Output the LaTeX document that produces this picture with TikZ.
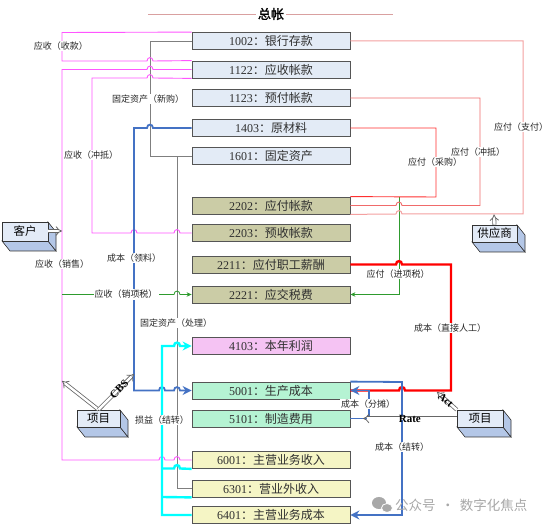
\documentclass[tikz,border=0pt]{standalone}
\usepackage{fontspec}
\setmainfont{Liberation Serif}
\newfontfamily\cjk{Noto Sans CJK SC}
\newfontfamily\cjkb[FakeBold=1.5]{Noto Sans CJK SC}
\usetikzlibrary{arrows.meta,calc}
\definecolor{boxline}{HTML}{555555}
\definecolor{boxtext}{HTML}{303030}
\definecolor{fblue}{HTML}{E3EBF6}
\definecolor{fkhaki}{HTML}{CBCCA6}
\definecolor{fpink}{HTML}{F5C3F3}
\definecolor{fgreen}{HTML}{B5F3D3}
\definecolor{fyellow}{HTML}{F5F5C5}
\definecolor{pinkc}{HTML}{FF55FF}
\definecolor{greyc}{HTML}{7F7F7F}
\definecolor{bluec}{HTML}{4472C4}
\definecolor{cyanc}{HTML}{00FFFF}
\definecolor{greenc}{HTML}{2E9B2E}
\definecolor{redA}{HTML}{FF3030}
\definecolor{redB}{HTML}{F06A6A}
\definecolor{redC}{HTML}{F4A0A0}
\definecolor{redT}{HTML}{FF0000}
\definecolor{titlec}{HTML}{D9A0A0}
\definecolor{sidec}{HTML}{B4C7E7}
\definecolor{frontc}{HTML}{E3EBF7}
\definecolor{wmc}{HTML}{A8A8A8}
\newcommand\lblfont{\cjk\fontsize{9}{10}\selectfont}
\newcommand\tdbox[6]{%
  \filldraw[boxside] (#2,#5) -- (#4,#5) -- ({#4+8},{#5+10}) -- ({#2+8},{#5+10}) -- cycle;
  \filldraw[boxside] (#4,#3) -- ({#4+8},{#3+10}) -- ({#4+8},{#5+10}) -- (#4,#5) -- cycle;
  \node[frontbox, minimum width={#4-#2}, minimum height={#5-#3}] (#1) at ({(#2+#4)/2},{(#3+#5)/2}) {#6};
}
\begin{document}
\begin{tikzpicture}[x=1pt,y=-1pt,
  acct/.style={draw=boxline, line width=0.8pt, minimum width=158pt, minimum height=17pt, inner sep=0pt, text=boxtext, font=\fontsize{12}{14}\selectfont},
  lbl/.style={fill=white, inner sep=1pt, text=black!85, font=\lblfont},
  boxside/.style={fill=sidec, draw=black!80, line width=0.6pt},
  frontbox/.style={fill=frontc, draw=black!80, line width=0.6pt, inner sep=0pt, font=\cjk\fontsize{11.5}{12}\selectfont},
  pinkl/.style={draw=pinkc, line width=0.9pt},
  greyl/.style={draw=greyc, line width=0.9pt},
  bluel/.style={draw=bluec, line width=1.8pt},
  cyanl/.style={draw=cyanc, line width=2.4pt},
  greenl/.style={draw=greenc, line width=0.8pt},
  redAl/.style={draw=redA, line width=0.9pt},
  redBl/.style={draw=redB, line width=0.9pt},
  redCl/.style={draw=redC, line width=1pt},
  redTl/.style={draw=redT, line width=2.4pt},
  dbl/.style={draw=black!60, double=white, double distance=2.4pt, line width=0.8pt, -{Implies[scale=1.3]}},
  bigtip/.style={-{Stealth[length=9pt,width=9pt]}},
  smalltip/.style={-{Stealth[length=5pt,width=4.5pt]}},
  hr/.style args={#1/#2}{insert path={-- ({#1-3},#2) .. controls ({#1-3},{#2-4.5}) and ({#1+3},{#2-4.5}) .. ({#1+3},#2)}},
  hl/.style args={#1/#2}{insert path={-- ({#1+3},#2) .. controls ({#1+3},{#2-4.5}) and ({#1-3},{#2-4.5}) .. ({#1-3},#2)}}
]
\useasboundingbox[fill=white] (0,0) rectangle (550,526);

% title
\coordinate (tl) at (148,15);
\coordinate (tr) at (393,15);
\draw[draw=titlec, line width=1pt] (tl) -- (tr);
\node[fill=white, inner xsep=2pt, font=\cjkb\fontsize{13}{14}\selectfont] (title) at (271,14) {总帐};

% accounts
\node[acct, fill=fblue] (a1002) at (271,41) {1002{\cjk ：银行存款}};
\node[acct, fill=fblue] (a1122) at (271,69.5) {1122{\cjk ：应收帐款}};
\node[acct, fill=fblue] (a1123) at (271,98) {1123{\cjk ：预付帐款}};
\node[acct, fill=fblue] (a1403) at (271,128) {1403{\cjk ：原材料}};
\node[acct, fill=fblue] (a1601) at (271,156) {1601{\cjk ：固定资产}};
\node[acct, fill=fkhaki] (a2202) at (271,205.5) {2202{\cjk ：应付帐款}};
\node[acct, fill=fkhaki] (a2203) at (271,233) {2203{\cjk ：预收帐款}};
\node[acct, fill=fkhaki] (a2211) at (271,264.5) {2211{\cjk ：应付职工薪酬}};
\node[acct, fill=fkhaki] (a2221) at (271,294.5) {2221{\cjk ：应交税费}};
\node[acct, fill=fpink] (a4103) at (271,346) {4103{\cjk ：本年利润}};
\node[acct, fill=fgreen] (a5001) at (271,390.5) {5001{\cjk ：生产成本}};
\node[acct, fill=fgreen] (a5101) at (271,418.5) {5101{\cjk ：制造费用}};
\node[acct, fill=fyellow] (a6001) at (271,460) {6001{\cjk ：主营业务收入}};
\node[acct, fill=fyellow] (a6301) at (271,488.5) {6301{\cjk ：营业外收入}};
\node[acct, fill=fyellow] (a6401) at (271,515) {6401{\cjk ：主营业务成本}};

% 3D boxes
\tdbox{kehu}{2}{222}{48}{241}{客户}
\tdbox{gys}{472}{225}{517}{242}{供应商}
\tdbox{xm1}{77}{410}{120}{427}{项目}
\tdbox{xm2}{457}{410}{503}{427}{项目}

% grey lines
\draw[greyl] (a1002.west) -- (150,41) -- (150,156) -- (a1601.west);
\draw[greyl] (a1601.west) -- (177,156) -- (177,488.5) -- (a6301.west);

% pink lines
\draw[pinkl] (a1002.north west) -- (62,32.5) -- (62,61) [hr=150/61] -- (a1122.north west);
\draw[pinkl] (a1122.west) [hl=150/69.5] -- (62,69.5) -- (62,460) [hr=162/460] [hr=177/460] -- (a6001.west);
\draw[pinkl] (a1122.south west) [hl=150/78] -- (92,78) -- (92,233) [hr=134/233] [hr=177/233] -- (a2203.west);

% blue 领料
\draw[bluel, bigtip] (a1403.west) [hl=150/128] -- (134,128) -- (134,390.5) [hr=162/390.5] [hr=177/390.5] -- (a5001.west);

% cyan 损益
\draw[cyanl, bigtip] (a6401.west) -- (162,515) -- (162,346) [hr=177/346] -- (a4103.west);
\draw[cyanl] (a6001.south west) [hl=177/468.5] -- (162,468.5);
\draw[cyanl] (a6301.south west) -- (162,497);

% green
\coordinate (gst) at (62,294.5);
\draw[greenl, smalltip] (gst) [hr=134/294.5] [hr=177/294.5] -- (a2221.west);
\coordinate (gjt) at (399,197);
\draw[greenl, smalltip] (gjt) -- (399,294.5) -- (a2221.east);

% red lines
\draw[redAl] (a1403.east) -- (436,128) -- (436,197) -- (a2202.north east);
\draw[redBl] (a1123.east) -- (480,98) -- (480,205.5) [hl=399/205.5] -- (a2202.east);
\draw[redCl] (a1002.east) -- (523,41) -- (523,214) [hl=399/214] -- (a2202.south east);
\draw[redTl] (a2211.east) [hr=399/264.5] -- (451,264.5) -- (451,390.5) [hl=402/390.5] -- (a5001.east);

% blue right
\draw[bluel, bigtip] (a5001.north east) -- (402,382) -- (402,515) -- (a6401.east);
\draw[bluel, bigtip] (a5101.east) -- (369,418.5) -- (369,390.5) -- (a5001.east);

% double arrows
\coordinate (khend) at (62,231);
\draw[dbl] (kehu.east |- khend) -- (khend);
\coordinate (gysend) at (494,214.5);
\draw[dbl] (gys.north) -- (gysend);
\coordinate (xmpink) at (62,381);
\draw[dbl] (xm1.north) -- (xmpink);
\coordinate (cbsend) at (134,374);
\draw[dbl] (xm1.north) -- (cbsend) node[pos=0.58, sloped, inner sep=0pt, font=\bfseries\fontsize{11}{11}\selectfont] (cbs) {CBS};
\coordinate (actend) at (437,392);
\draw[dbl] (xm2.north west) -- (actend) node[pos=0.55, sloped, inner sep=0pt, font=\bfseries\fontsize{10.5}{11}\selectfont] (act) {Act};
\coordinate (rateend) at (363,418.5);
\draw[dbl] (xm2.west) -- (rateend) node[pos=0.5, inner sep=0pt, font=\bfseries\fontsize{11}{11}\selectfont] (rate) {Rate};

% labels
\node[lbl] (l1) at (61,46) {应收（收款）};
\node[lbl] (l2) at (91,155) {应收（冲抵）};
\node[lbl] (l3) at (62,264) {应收（销售）};
\node[lbl] (l4) at (148,99) {固定资产（新购）};
\node[lbl] (l5) at (134,258) {成本（领料）};
\node[lbl] (l6) at (126,294.5) {应收（销项税）};
\node[lbl] (l7) at (176,323) {固定资产（处理）};
\node[lbl] (l8) at (162,420) {损益（结转）};
\node[lbl] (l9) at (521,127) {应付（支付）};
\node[lbl] (l10) at (478,152) {应付（冲抵）};
\node[lbl] (l11) at (435,162) {应付（采购）};
\node[lbl] (l12) at (398,274) {应付（进项税）};
\node[lbl] (l13) at (450,328) {成本（直接人工）};
\node[lbl] (l14) at (368,404) {成本（分摊）};
\node[lbl] (l15) at (402,447) {成本（结转）};

% watermark
\fill[wmc] (379,503) ellipse [x radius=7pt, y radius=6pt];
\filldraw[fill=wmc, draw=white, line width=0.8pt] (387,508) ellipse [x radius=5.5pt, y radius=4.5pt];
\node[anchor=west, text=wmc, inner sep=0pt, font=\cjk\fontsize{13.5}{14}\selectfont] (wm) at (395,505) {公众号\hspace{0.4em}·\hspace{0.4em}数字化焦点};
\end{tikzpicture}
\end{document}
